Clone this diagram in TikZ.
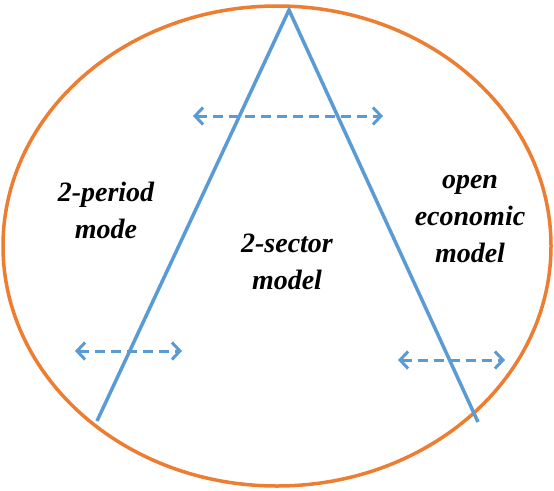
\documentclass[tikz,border=0pt]{standalone}
\usepackage{fontspec}
\setmainfont{Liberation Serif}
\usetikzlibrary{arrows.meta}
\definecolor{ringorange}{RGB}{237,125,49}
\definecolor{lineblue}{RGB}{91,155,213}
\tikzset{
  ring/.style={draw=ringorange, line width=3.5pt},
  leg/.style={draw=lineblue, line width=3.5pt},
  darrow/.style={draw=lineblue, line width=3pt, dash pattern=on 10pt off 6pt,
     {Straight Barb[length=8pt,width=17pt,line width=3pt]}-{Straight Barb[length=8pt,width=17pt,line width=3pt]}},
  lbl/.style={font=\fontsize{28}{37}\selectfont\bfseries\itshape, align=center}
}
\begin{document}
\begin{tikzpicture}[x=1pt,y=-1pt]
\useasboundingbox (0,0) rectangle (554,490);
\fill[white] (0,0) rectangle (554,490);
\draw[ring] (277,246) ellipse [x radius=274, y radius=240];
\coordinate (apex) at (289,10);
\coordinate (lend) at (97,421);
\coordinate (rend) at (478,422);
\draw[leg] (lend) -- (apex) -- (rend);
\coordinate (a1) at (193,116); \coordinate (b1) at (383,116);
\coordinate (a2) at (75,351);  \coordinate (b2) at (182,351);
\coordinate (a3) at (398,360); \coordinate (b3) at (505,360);
\draw[darrow] (a1) -- (b1);
\draw[darrow] (a2) -- (b2);
\draw[darrow] (a3) -- (b3);
\node[lbl] (t1) at (106,210) {2-period\\mode};
\node[lbl] (t2) at (470,219) {open\\economic\\model};
\node[lbl] (t3) at (287,262) {2-sector\\model};
\end{tikzpicture}
\end{document}
